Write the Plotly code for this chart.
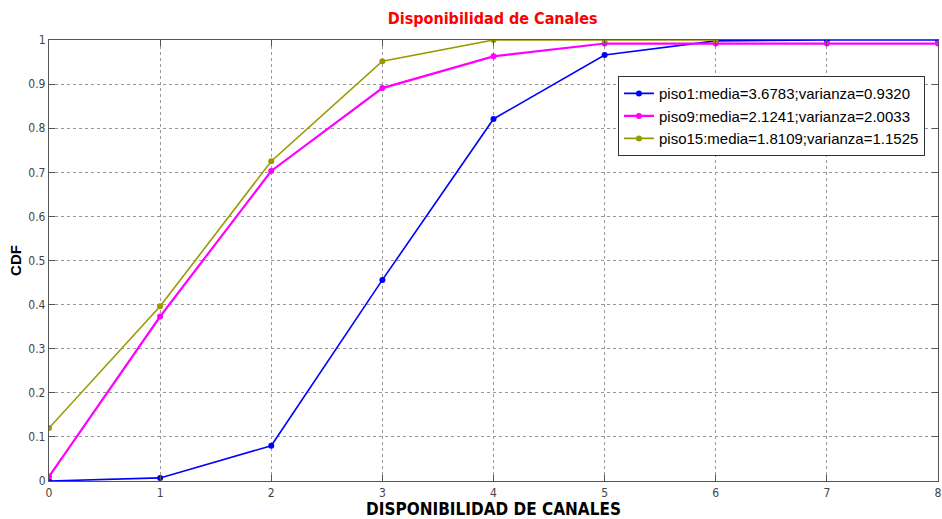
import plotly.graph_objects as go

canales = [0, 1, 2, 3, 4, 5, 6, 7, 8]
piso1 = [0.0, 0.007, 0.08, 0.456, 0.821, 0.966, 0.998, 1.0, 1.0]
piso9 = [0.01, 0.373, 0.703, 0.891, 0.963, 0.992, 0.992, 0.992, 0.992]
piso15 = [0.12, 0.396, 0.725, 0.952, 1.0, 1.0, 1.0]

nombres = [
    "piso1:media=3.6783;varianza=0.9320",
    "piso9:media=2.1241;varianza=2.0033",
    "piso15:media=1.8109;varianza=1.1525",
]
colores = ["#0000ff", "#ff00ff", "#999900"]

ESTRECHA = "DejaVu Sans Condensed, Liberation Sans Narrow, Roboto Condensed, Liberation Sans"

fig = go.Figure()
for nombre, valores, color, ancho in zip(nombres, [piso1, piso9, piso15], colores, [1.6, 2.2, 1.6]):
    fig.add_trace(go.Scatter(
        x=canales[:len(valores)], y=valores, name=nombre, mode="lines+markers",
        line=dict(color=color, width=ancho), marker=dict(color=color, size=6),
    ))

eje = dict(
    showline=True, linecolor="#555", linewidth=1.2, mirror="ticks",
    ticks="inside", ticklen=6, tickcolor="#555", automargin=False,
    showgrid=True, gridcolor="#999", griddash="dot", gridwidth=1,
    zeroline=False, tickfont=dict(family=ESTRECHA, size=12, color="#444"),
)

fig.update_layout(
    width=942, height=519,
    margin=dict(l=49, r=4, t=40, b=38),
    paper_bgcolor="white", plot_bgcolor="white",
    title=dict(text="<b>Disponibilidad de Canales</b>", x=0.523, xanchor="center", y=0.965, yanchor="middle",
               font=dict(family=ESTRECHA, size=16, color="#ff0000")),
    xaxis=dict(eje, range=[0, 8], dtick=1,
               title=dict(text="<b>DISPONIBILIDAD DE CANALES</b>", standoff=4,
                          font=dict(family=ESTRECHA, size=17, color="black"))),
    yaxis=dict(eje, range=[0, 1], dtick=0.1,
               title=dict(text="<b>CDF</b>", standoff=3,
                          font=dict(family="Liberation Sans", size=15, color="black"))),
    legend=dict(x=0.640, y=0.918, xanchor="left", yanchor="top", bgcolor="white",
                bordercolor="#333", borderwidth=1, tracegroupgap=0,
                font=dict(family="Liberation Sans", size=15, color="black")),
    showlegend=True,
)

fig.write_html("out.html", config={"displayModeBar": False},
               post_script="document.body.style.margin='0';")
